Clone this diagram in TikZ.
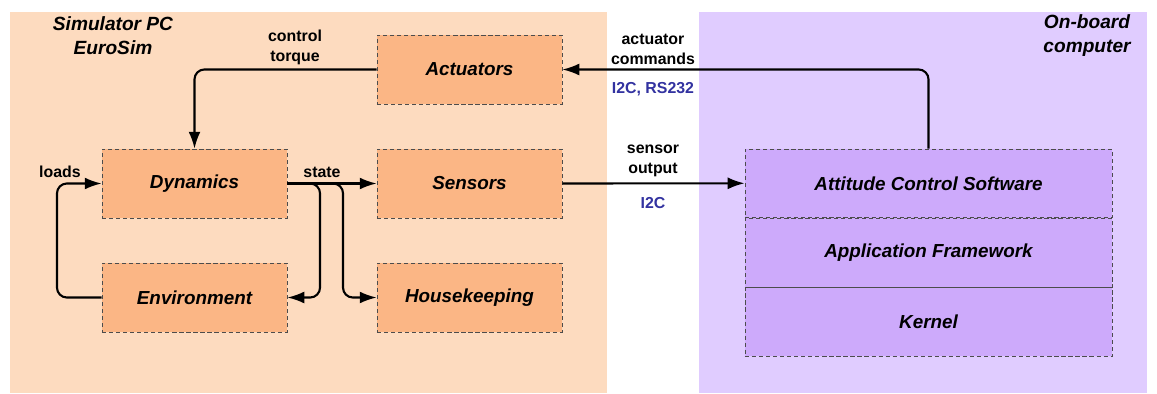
\documentclass[tikz,border=0pt]{standalone}
\usepackage{fontspec}
\setmainfont{Liberation Sans}
\usetikzlibrary{arrows.meta,positioning}
\definecolor{simbg}{RGB}{253,219,191}
\definecolor{simbox}{RGB}{251,182,133}
\definecolor{obcbg}{RGB}{224,204,255}
\definecolor{obcbox}{RGB}{205,170,251}
\definecolor{buscol}{RGB}{50,50,160}
\begin{document}
\begin{tikzpicture}[
			x=0.025cm, y=-0.025cm,
			block/.style={draw=black!70, densely dashed, line width=0.5pt, fill=simbox,
				minimum width=4.625cm, minimum height=1.725cm, inner sep=0pt,
				font=\fontsize{13.4}{15}\selectfont\bfseries\itshape},
			layer/.style={block, fill=obcbox, minimum width=9.175cm, minimum height=1.717cm},
			lbl/.style={align=center, inner sep=0pt, font=\fontsize{11.3}{14.2}\selectfont\bfseries},
			bus/.style={lbl, text=buscol},
			title/.style={align=center, inner sep=0pt, font=\fontsize{13.6}{17.2}\selectfont\bfseries\itshape},
			conn/.style={line width=1.5pt, rounded corners=7pt, -{Latex[length=12pt,width=8.5pt]}},
			node distance=0pt
			]
			\useasboundingbox (0,0) rectangle (1157,394);
			% background areas
			\fill[simbg] (10,12) rectangle (607,393);
			\fill[obcbg] (699,12) rectangle (1147,393);
			\node[title] (simpc) at (113,35.5) {Simulator PC\\EuroSim};
			\node[title] (obc) at (1087,35.5) {On-board\\computer};

			% simulator models
			\node[block] (act) at (469.5,69.5) {Actuators};
			\node[block] (dyn) at (194.5,183.5) {Dynamics};
			\node[block] (sens) at (469.5,183.5) {Sensors};
			\node[block] (env) at (194.5,297.5) {Environment};
			\node[block] (hk) at (469.5,297.5) {Housekeeping};

			% on-board software stack
			\node[layer] (acs) at (928.5,183.3) {Attitude Control Software};
			\node[layer, below=of acs] (fw) {Application Framework};
			\node[layer, below=of fw] (kern) {Kernel};

			\coordinate (split1) at (320,297.5);
			\coordinate (split2) at (343,297.5);
			\coordinate (loopl) at (57,240);

			\draw[conn] (acs.north) |- (act.east);
			\draw[conn] (act.west) -| (dyn.north);
			\draw[conn] (dyn.east) -- (sens.west);
			\draw[conn] (sens.east) -- (acs.west);
			\draw[conn] (dyn.east) -| (split1) -- (env.east);
			\draw[conn] (dyn.east) -| (split2) -- (hk.west);
			\draw[conn] (env.west) -| (loopl) |- (dyn.west);

			% connector labels
			\node[lbl] (torque) at (295,47) {control\\torque};
			\node[lbl] (cmds) at (653,49.5) {actuator\\commands};
			\node[bus] (cmdbus) at (653,89) {I2C, RS232};
			\node[lbl] (sout) at (653,160.5) {sensor\\output};
			\node[bus] (soutbus) at (653,203) {I2C};
			\node[lbl] (loads) at (60,172) {loads};
			\node[lbl] (state) at (322,172) {state};
		\end{tikzpicture}
\end{document}
